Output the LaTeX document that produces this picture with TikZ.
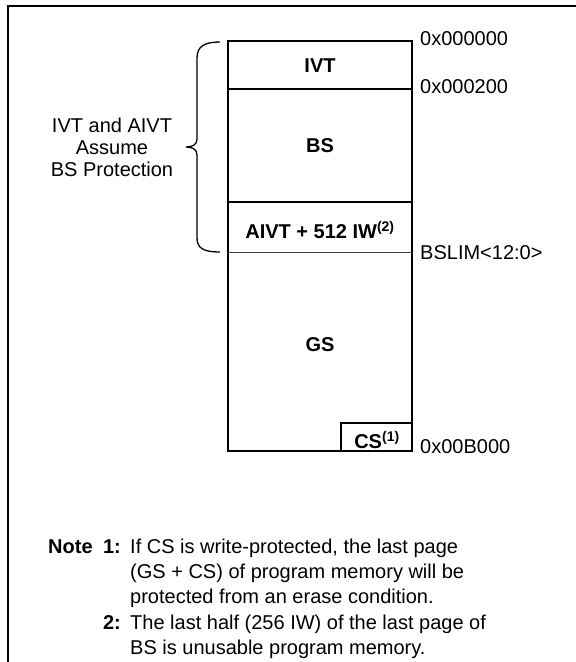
\documentclass[tikz,border=0pt]{standalone}
\usepackage{fontspec}
\setmainfont{Liberation Sans}
\begin{document}
\begin{tikzpicture}[x=1pt,y=-1pt,
  lbl/.style={font=\fontsize{20}{24}\selectfont\bfseries, inner sep=0pt},
  addr/.style={font=\fontsize{20}{24}\selectfont, anchor=west, inner sep=0pt},
  note/.style={font=\fontsize{20}{24}\selectfont, anchor=base west, inner sep=0pt},
  notenum/.style={font=\fontsize{20}{24}\selectfont\bfseries, anchor=base east, inner sep=0pt},
  box/.style={line width=2pt},
  frame/.style={line width=2.5pt}]
\useasboundingbox (0,0) rectangle (576,662);
% outer frame (left and top edges visible)
\draw[frame] (8,680) -- (8,6) -- (600,6);
% memory map
\coordinate (tl) at (228,41);
\coordinate (br) at (412,451);
\draw[box] (tl) rectangle (br);
\draw[box] (228,89) -- (412,89);
\draw[box] (228,202) -- (412,202);
\draw[line width=1pt, black!75] (228,252) -- (412,252);
\draw[box] (341,451) |- (412,423);
% region labels
\node[lbl] (ivt) at (320,66) {IVT};
\node[lbl] (bs) at (320,146) {BS};
\node[lbl] (aivt) at (320,230) {AIVT + 512 IW\textsuperscript{(2)}};
\node[lbl] (gs) at (320,345) {GS};
\node[lbl] (cs) at (377,440) {CS\textsuperscript{(1)}};
% addresses
\node[addr] (a0) at (420,39) {0x000000};
\node[addr] (a1) at (420,87) {0x000200};
\node[addr] (a2) at (420,253) {BSLIM<12:0>};
\node[addr] (a3) at (420,447) {0x00B000};
% brace
\draw[line width=1.3pt]
  (220,42) .. controls (205,42) and (197,46) .. (197,58) -- (197,139)
  .. controls (197,145) and (192,147) .. (186,147)
  .. controls (192,147) and (197,149) .. (197,155) -- (197,238)
  .. controls (197,249) and (205,252) .. (220,252);
\node[font=\fontsize{20}{22}\selectfont, align=center, inner sep=0pt] (prot) at (112,147)
  {IVT and AIVT\\Assume\\BS Protection};
% notes
\node[font=\fontsize{20}{24}\selectfont\bfseries, anchor=base west, inner sep=0pt] (nt) at (48,553) {Note};
\node[notenum] (n1) at (121,553) {1:};
\node[note] (t1a) at (130,553) {If CS is write-protected, the last page};
\node[note] (t1b) at (130,578) {(GS + CS) of program memory will be};
\node[note] (t1c) at (130,603) {protected from an erase condition.};
\node[notenum] (n2) at (121,629) {2:};
\node[note] (t2a) at (130,629) {The last half (256 IW) of the last page of};
\node[note] (t2b) at (130,654) {BS is unusable program memory.};
\end{tikzpicture}
\end{document}
